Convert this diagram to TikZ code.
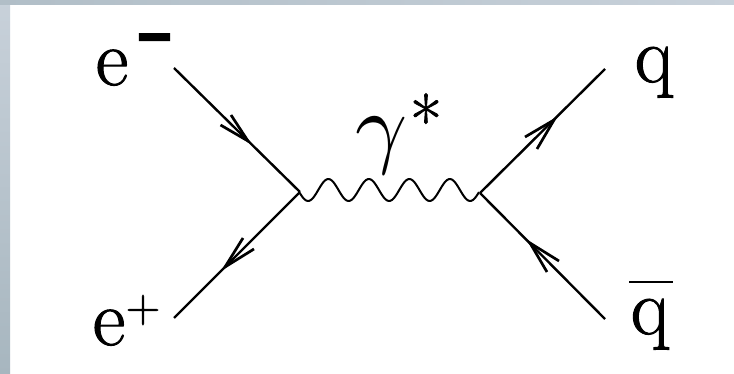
\documentclass[tikz,border=0pt]{standalone}
\usepackage{fontspec}
\newfontfamily\heavy[FakeBold=1.2]{Latin Modern Roman}
\newfontfamily\heavier[FakeBold=5]{Latin Modern Roman}
\tikzset{
  fermion/.style={line width=2.4pt},
  barb/.style={line width=2.7pt,line join=miter},
  photon/.style={line width=2pt,line join=round},
  lab/.style={inner sep=0pt,anchor=base,font=\heavy\fontsize{80}{80}\selectfont},
  supr/.style={inner sep=0pt,anchor=base,font=\heavy\fontsize{56}{56}\selectfont}
}
\definecolor{barL}{HTML}{A7B6BF}
\definecolor{barT}{HTML}{C8D1DA}
\begin{document}
\begin{tikzpicture}[x=1pt,y=-1pt]
\useasboundingbox (0,0) rectangle (734,374);
\fill[white] (0,0) rectangle (734,374);
\fill[top color=barT,bottom color=barL] (0,0) rectangle (10,374);
\fill[left color=barL!70!barT,right color=barT] (0,0) rectangle (734,5);
\coordinate (v1) at (300,192);
\coordinate (v2) at (480,193);
\coordinate (a) at (174,68);
\coordinate (b) at (174,318);
\coordinate (c) at (605,69);
\coordinate (d) at (605,319);
\coordinate (ta) at (248,141);
\coordinate (tb) at (225,267);
\coordinate (tc) at (554,120);
\coordinate (td) at (530,243);
\draw[fermion] (a) -- (v1);
\draw[fermion] (v1) -- (b);
\draw[fermion] (v2) -- (c);
\draw[fermion] (d) -- (v2);
\draw[barb] (220.5,125) -- (ta) -- (231,115);
\draw[barb] (243,238) -- (tb) -- (254,249);
\draw[barb] (525,137) -- (tc) -- (537,149);
\draw[barb] (559,261) -- (td) -- (547,272);
\draw[photon] plot[domain=300:479,samples=120] (\x,{190+11*sin((\x-298)*8.889)});
\node[lab] (em) at (112,85) {e};
\node[supr,font=\heavier\fontsize{60}{60}\selectfont,yscale=2] (eminus) at (154.5,69) {–};
\node[lab] (ep) at (109,345) {e};
\node[supr,font=\heavy\fontsize{48}{48}\selectfont] (eplus) at (143,322) {+};
\node[lab] (q) at (654,82) {q};
\node[lab] (qb) at (650,334) {q};
\draw[line width=1.3pt] (629,282) -- (673,282);
\node[inner sep=0pt,anchor=base,scale=9.1] (gam) at (382,157) {$\gamma$};
\node[supr,font=\heavy\fontsize{70}{70}\selectfont] (star) at (426,146) {*};
\end{tikzpicture}
\end{document}
